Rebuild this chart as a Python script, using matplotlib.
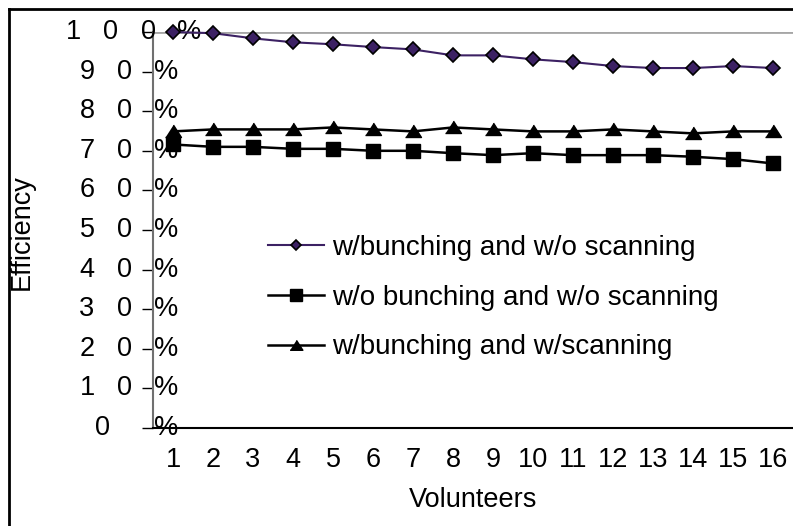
import matplotlib.pyplot as plt
from matplotlib.lines import Line2D

plt.rcParams['font.family'] = ['Liberation Sans', 'DejaVu Sans']

volunteers = list(range(1, 17))
bunch_no_scan = [100, 99.7, 98.4, 97.4, 96.9, 96.2, 95.6, 94.1, 94.1, 93.1,
                 92.4, 91.4, 90.9, 90.9, 91.4, 90.9]
no_bunch_no_scan = [71.6, 71.0, 71.0, 70.5, 70.5, 70.0, 70.0, 69.4, 68.9, 69.4,
                    68.9, 68.9, 68.9, 68.5, 67.9, 66.8]
bunch_scan = [74.9, 75.4, 75.4, 75.4, 75.9, 75.4, 74.9, 75.9, 75.4, 74.9,
              74.9, 75.4, 74.9, 74.4, 74.9, 74.9]
y_ticks = [0, 10, 20, 30, 40, 50, 60, 70, 80, 90, 100]

fs = 19.5
fig = plt.figure(figsize=(7.93, 5.26), dpi=100)
ax = fig.add_axes([153 / 793, 1 - 428 / 526, 1 - 153 / 793, (428 - 32) / 526])

purple = '#3c2163'
ax.plot(volunteers, bunch_no_scan, color=purple, lw=1.5, marker='D', ms=7,
        mfc=purple, mec='black', mew=1.2, clip_on=False, zorder=5,
        label='w/bunching and w/o scanning')
ax.plot(volunteers, no_bunch_no_scan, color='black', lw=1.8, marker='s', ms=10,
        clip_on=False, zorder=5, label='w/o bunching and w/o scanning')
tri = [(-1, -0.75), (1, -0.75), (0, 0.8)]
ax.plot(volunteers, bunch_scan, color='black', lw=1.8, marker=tri, ms=11.5,
        clip_on=False, zorder=5, label='w/bunching and w/scanning')

ax.set_xlim(0.5, 16.5)
ax.set_ylim(0, 100)
ax.axhline(100, color='#a6a6a6', lw=2, zorder=1)

for s in ['top', 'right']:
    ax.spines[s].set_visible(False)
ax.spines['left'].set_color('#707070')
ax.spines['left'].set_linewidth(1.5)
ax.spines['bottom'].set_linewidth(1.5)

ax.set_xticks(volunteers)
ax.set_xticklabels([str(v) for v in volunteers], fontsize=fs)
ax.tick_params(axis='x', length=0, pad=14)
ax.set_yticks(y_ticks)
ax.set_yticklabels([])
ax.tick_params(axis='y', length=8, width=1, color='black')

# spread-out percent labels, digits left of the axis and "%" right of it
offsets = {2: [-50, 13], 3: [-66, -29, 13], 4: [-80, -42, -4, 36]}
for v in y_ticks:
    chars = list(str(v)) + ['%']
    for ch, dx in zip(chars, offsets[len(chars)]):
        ax.annotate(ch, xy=(0, v), xycoords=ax.get_yaxis_transform(),
                    xytext=(dx, 0), textcoords='offset pixels',
                    ha='center', va='center', fontsize=fs, zorder=3,
                    annotation_clip=False)

ax.set_xlabel('Volunteers', fontsize=fs, labelpad=10)
fig.text(22 / 793, 1 - 232 / 526, 'Efficiency', rotation=90, fontsize=fs,
         ha='center', va='center')

ax.legend(loc='upper left', bbox_to_anchor=(268 / 793, 1 - 235 / 526),
          bbox_transform=fig.transFigure, frameon=False, fontsize=20,
          handlelength=2.0, handletextpad=0.3, labelspacing=0.85,
          borderpad=0, borderaxespad=0, markerscale=0.8)

# outer chart border (left and top edges)
fig.add_artist(Line2D([9 / 793, 9 / 793], [0, 1 - 9 / 526], color='black',
                      lw=2, transform=fig.transFigure))
fig.add_artist(Line2D([9 / 793, 1], [1 - 9 / 526, 1 - 9 / 526], color='black',
                      lw=2, transform=fig.transFigure))

fig.savefig('out.png', dpi=100)
